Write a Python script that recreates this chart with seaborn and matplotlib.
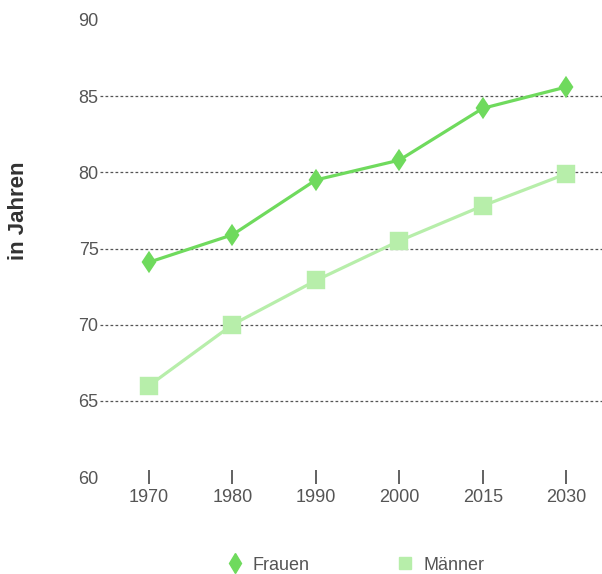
import matplotlib
matplotlib.use("Agg")
import matplotlib.pyplot as plt
import seaborn as sns
import pandas as pd

# Lebenserwartung bei Geburt
jahre = ["1970", "1980", "1990", "2000", "2015", "2030"]
frauen = [74.1, 75.9, 79.5, 80.8, 84.2, 85.6]
maenner = [66.0, 70.0, 72.9, 75.5, 77.8, 79.9]
y_ticks = [60, 65, 70, 75, 80, 85, 90]

serien = ["Frauen", "Männer"]
farben = {"Frauen": "#6fda5d", "Männer": "#b7eeaa"}
marker = {"Frauen": "d", "Männer": "s"}
marker_groesse = {"d": 9.5, "s": 11}

df = pd.DataFrame({
    "Jahr": jahre * 2,
    "Wert": frauen + maenner,
    "Geschlecht": ["Frauen"] * len(jahre) + ["Männer"] * len(jahre),
})

sns.set_theme(style="white")
plt.rcParams["font.family"] = ["Liberation Sans", "DejaVu Sans"]

W, H = 602, 574
fig = plt.figure(figsize=(W / 100, H / 100), dpi=100)
ax = fig.add_axes([100 / W, 1 - 477 / H, 502 / W, 457 / H])

sns.pointplot(
    data=df, x="Jahr", y="Wert", hue="Geschlecht", order=jahre,
    hue_order=serien, palette=farben, markers=[marker[s] for s in serien],
    linestyles=["-", "-"], errorbar=None, ax=ax,
    markersize=11, linewidth=2.3, legend=False,
)

# Diamonds slightly smaller than squares
for line in ax.lines:
    m = line.get_marker()
    if m in marker_groesse:
        line.set_markersize(marker_groesse[m])

ax.set_xlim(-0.588, 5.43)
ax.set_ylim(60, 90)
ax.set_yticks(y_ticks)
for v in y_ticks[1:-1]:
    ax.axhline(v, color="#555555", lw=0.9, ls=(0, (2.2, 1.8)), zorder=0)

for s in ax.spines.values():
    s.set_visible(False)

ax.tick_params(axis="y", length=0, pad=1, labelsize=13, labelcolor="#555555")
ax.tick_params(axis="x", direction="inout", length=10, width=1.3,
               color="#555555", pad=4, labelsize=13, labelcolor="#555555",
               bottom=True)
ax.set_xlabel("")
ax.set_ylabel("")
fig.text(19 / W, 1 - 211 / H, "in Jahren", rotation=90, ha="center",
         va="center", fontsize=16, fontweight="bold", color="#333333")

handles = [
    plt.Line2D([], [], marker="d", ls="none", color=farben["Frauen"], markersize=10),
    plt.Line2D([], [], marker="s", ls="none", color=farben["Männer"], markersize=9),
]
fig.legend(handles, serien, loc="center", bbox_to_anchor=(355 / W, 1 - 565 / H),
           ncol=2, frameon=False, fontsize=13, labelcolor="#555555",
           handlelength=1.0, handletextpad=0.5, columnspacing=4.8)

fig.savefig("out.png", dpi=100, facecolor="white")
